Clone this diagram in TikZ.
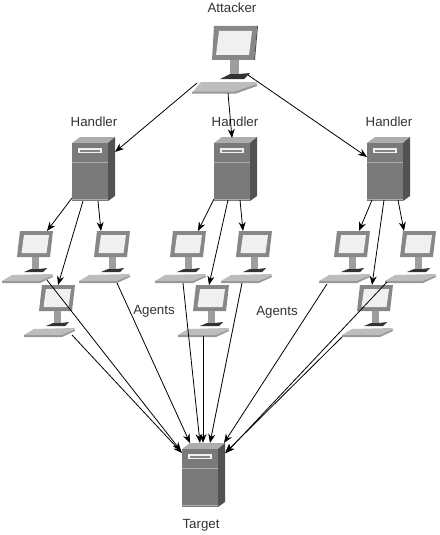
\documentclass[tikz,border=0pt]{standalone}
\usepackage{fontspec}
\setmainfont{Liberation Sans}
\usetikzlibrary{arrows.meta}
\definecolor{frameg}{gray}{0.53}
\definecolor{screeng}{gray}{0.94}
\definecolor{standg}{gray}{0.62}
\definecolor{baseg}{gray}{0.20}
\definecolor{keyg}{gray}{0.74}
\definecolor{keyd}{gray}{0.60}
\definecolor{frontg}{gray}{0.48}
\definecolor{topg}{gray}{0.68}
\definecolor{sideg}{gray}{0.32}
\tikzset{
  x=1pt,y=-1pt,
  conn/.style={draw=black,line width=0.8pt,-{Stealth[length=9pt,width=7pt]}},
  lbl/.style={font=\fontsize{13.3}{15}\selectfont,text=black!80,inner sep=0pt},
  pc/.pic={
    \fill[frameg] (0,0) -- (33,0) -- (30,26) -- (-3,26) -- cycle;
    \fill[screeng] (4,4) -- (29,4) -- (26.5,22) -- (1.5,22) -- cycle;
    \fill[standg] (12,26) rectangle (19,38);
    \fill[baseg] (4,41) -- (11,38) -- (19,38) -- (27,37) -- (23,41) -- cycle;
    \fill[keyg] (-18,50) -- (-8,44) -- (33,43) -- (31,46) -- (20,51) -- (-18,52) -- cycle;
    \fill[keyd] (-18,50) -- (20,50) -- (33,44.5) -- (33,46) -- (20,52) -- (-18,52) -- cycle;
  },
  bigpc/.pic={
    \fill[frameg] (0,0) -- (43,0) -- (40,34) -- (-2,34) -- cycle;
    \fill[sideg] (43,0) -- (44,0) -- (41,34) -- (40,34) -- cycle;
    \fill[screeng] (5,5) -- (38,5) -- (35,29) -- (2,29) -- cycle;
    \fill[standg] (16,34) rectangle (25,48);
    \fill[baseg] (6,53) -- (16,48) -- (25,48) -- (36,47) -- (30,53) -- cycle;
    \fill[keyg] (-22,67) -- (-13,56) -- (43,56) -- (42,60) -- (22,67) -- cycle;
    \fill[keyd] (-22,65.5) -- (21,65.5) -- (43,58) -- (43,60) -- (22,67.5) -- (-22,67.5) -- cycle;
  },
  server/.pic={
    \fill[topg] (0,6) -- (8,0) -- (43,0) -- (36,6) -- cycle;
    \fill[sideg] (36,6) -- (43,0) -- (43,59) -- (36,64) -- cycle;
    \fill[frontg] (0,6) rectangle (36,64);
    \fill[screeng] (6,11) rectangle (30,16);
    \fill[frameg] (8,13) rectangle (28,15);
    \draw[topg,line width=0.6pt] (0,25) -- (36,25);
    \draw[topg,line width=0.8pt] (0,62) -- (36,62);
  },
}
\begin{document}
\begin{tikzpicture}
\useasboundingbox[fill=white] (0,0) rectangle (439,535);
% devices
\pic (att) at (214,26) {bigpc};
\pic (h1) at (72,137) {server};
\pic (h2) at (214,137) {server};
\pic (h3) at (367,137) {server};
\pic (a1) at (20,231) {pc};
\pic (a2) at (42,285) {pc};
\pic (a3) at (97,231) {pc};
\pic (b1) at (173,231) {pc};
\pic (b2) at (196,285) {pc};
\pic (b3) at (239,231) {pc};
\pic (c1) at (337,231) {pc};
\pic (c2) at (360,285) {pc};
\pic (c3) at (403,231) {pc};
\pic (tg) at (182,443) {server};
% labels
\node[lbl] (lattacker) at (232,8) {Attacker};
\node[lbl] (lh1) at (94,122) {Handler};
\node[lbl] (lh2) at (235,122) {Handler};
\node[lbl] (lh3) at (389,122) {Handler};
\node[lbl] (lag1) at (154,311) {Agents};
\node[lbl] (lag2) at (277,312) {Agents};
\node[lbl] (ltarget) at (201,525) {Target};
% connector ends
\coordinate (attL) at (197,83);
\coordinate (attM) at (228,93);
\coordinate (attR) at (248,75);
\coordinate (h1in) at (115,152);
\coordinate (h2in) at (232,138);
\coordinate (h3in) at (367,157);
\coordinate (h1o1) at (72,198); \coordinate (h1o2) at (83,201); \coordinate (h1o3) at (98,201);
\coordinate (h2o1) at (214,199); \coordinate (h2o2) at (228,200); \coordinate (h2o3) at (240,200);
\coordinate (h3o1) at (372,200); \coordinate (h3o2) at (384,200); \coordinate (h3o3) at (398,200);
\coordinate (a1in) at (47,231); \coordinate (a2in) at (58,285); \coordinate (a3in) at (101,231);
\coordinate (b1in) at (198,231); \coordinate (b2in) at (209,285); \coordinate (b3in) at (243,231);
\coordinate (c1in) at (359,231); \coordinate (c2in) at (372,285); \coordinate (c3in) at (404,231);
\coordinate (a1o) at (47,280); \coordinate (a2o) at (72,335); \coordinate (a3o) at (117,283);
\coordinate (b1o) at (183,283); \coordinate (b2o) at (203,336); \coordinate (b3o) at (242,283);
\coordinate (c1o) at (327,284); \coordinate (c2o) at (342,337); \coordinate (c3o) at (387,282);
\coordinate (tgA) at (181,451); \coordinate (tgB) at (182,453); \coordinate (tgC) at (190,443);
\coordinate (tgD) at (200,443); \coordinate (tgE) at (203,443); \coordinate (tgF) at (210,443);
\coordinate (tgG) at (224,443); \coordinate (tgH) at (225,453); \coordinate (tgI) at (226,453);
% connectors
\draw[conn] (attL) -- (h1in);
\draw[conn] (attM) -- (h2in);
\draw[conn] (attR) -- (h3in);
\draw[conn] (h1o1) -- (a1in);
\draw[conn] (h1o2) -- (a2in);
\draw[conn] (h1o3) -- (a3in);
\draw[conn] (h2o1) -- (b1in);
\draw[conn] (h2o2) -- (b2in);
\draw[conn] (h2o3) -- (b3in);
\draw[conn] (h3o1) -- (c1in);
\draw[conn] (h3o2) -- (c2in);
\draw[conn] (h3o3) -- (c3in);
\draw[conn] (a1o) -- (tgA);
\draw[conn] (a2o) -- (tgB);
\draw[conn] (a3o) -- (tgC);
\draw[conn] (b1o) -- (tgD);
\draw[conn] (b2o) -- (tgE);
\draw[conn] (b3o) -- (tgF);
\draw[conn] (c1o) -- (tgG);
\draw[conn] (c2o) -- (tgH);
\draw[conn] (c3o) -- (tgI);
\end{tikzpicture}
\end{document}
